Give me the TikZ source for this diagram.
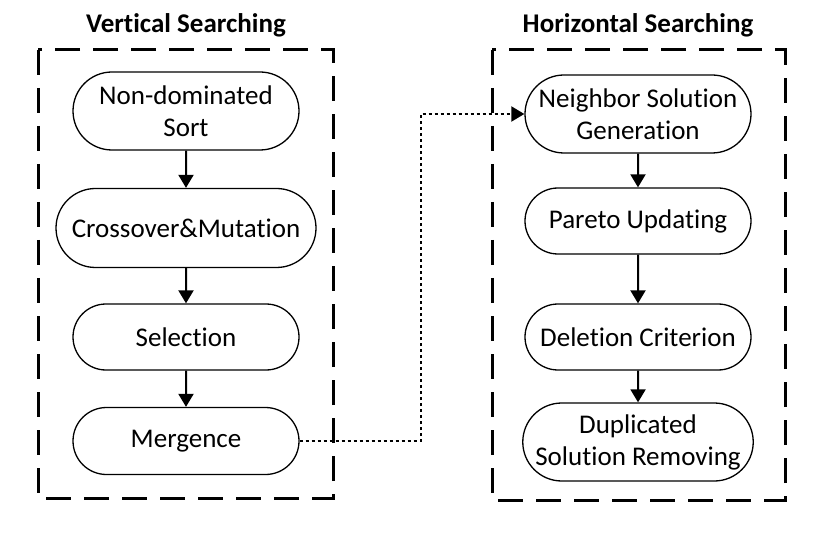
\documentclass[tikz,border=0pt]{standalone}
\usepackage{fontspec}
\setmainfont{Carlito}[Ligatures={NoCommon}]
\usetikzlibrary{arrows.meta,shapes.misc}

\tikzset{
  procbox/.style={rounded rectangle, draw, line width=1.3pt, align=center,
    inner sep=1pt, minimum width=228pt, minimum height=66pt,
    font=\fontsize{27}{32}\selectfont},
  flow/.style={-{Triangle[width=15pt,length=13pt]}, line width=2pt},
  link/.style={-{Triangle[width=15pt,length=13pt]}, line width=2pt,
    dash pattern=on 3pt off 3pt},
  groupframe/.style={line width=3pt, dash pattern=on 25pt off 13pt},
  grouptitle/.style={font=\fontsize{27}{32}\selectfont\bfseries}
}

\begin{document}
\begin{tikzpicture}[x=1pt,y=-1pt]
\useasboundingbox (0,0) rectangle (821,534);

% titles and frames
\node[grouptitle] (vtitle) at (186,25) {Vertical Searching};
\node[grouptitle] (htitle) at (638,25) {Horizontal Searching};
\draw[groupframe] (38,50) rectangle (333,498);
\draw[groupframe] (492,50) rectangle (785,500);

% vertical searching
\node[procbox, minimum height=78pt] (sort) at (186,111) {Non-dominated\\Sort};
\node[procbox, minimum width=262pt, minimum height=79pt] (cross) at (186,228) {Crossover\&Mutation};
\node[procbox] (sel) at (186,337) {Selection};
\node[procbox, minimum height=67pt] (merge) at (186,441) {Mergence};

% horizontal searching
\node[procbox, minimum height=78pt] (neigh) at (638,114) {Neighbor Solution\\Generation};
\node[procbox] (pareto) at (638,221) {Pareto Updating};
\node[procbox] (del) at (638,337) {Deletion Criterion};
\node[procbox, minimum height=78pt] (dup) at (638,442) {Duplicated\\Solution Removing};

\draw[flow] (sort) -- (cross);
\draw[flow] (cross) -- (sel);
\draw[flow] (sel) -- (merge);
\draw[flow] (neigh) -- (pareto);
\draw[flow] (pareto) -- (del);
\draw[flow] (del) -- (dup);

\draw[link] (merge.east) -- ++(121,0) |- (neigh.west);
\end{tikzpicture}
\end{document}
